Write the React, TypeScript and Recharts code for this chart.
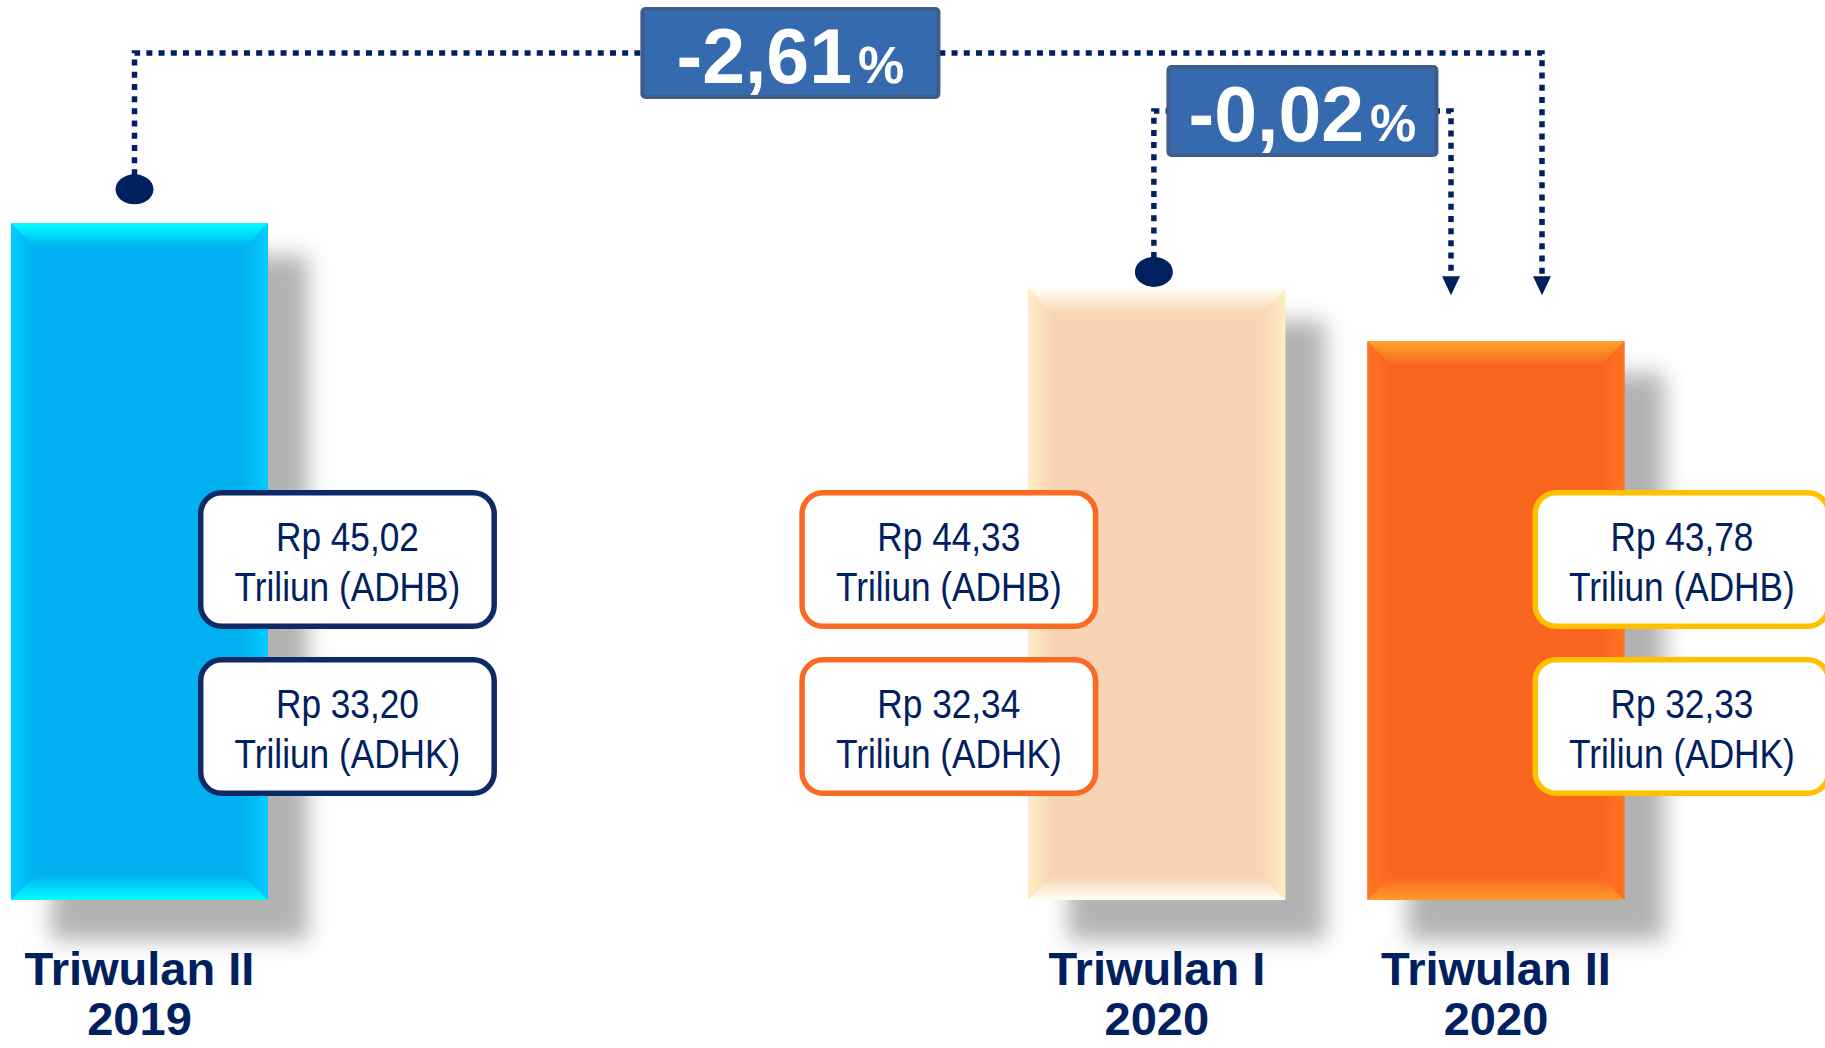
import React from 'react'
import { Bar, BarChart, ReferenceLine, XAxis, YAxis } from 'recharts'

// PDRB per triwulan (triliun rupiah)
const QUARTER_NAMES = ['Triwulan II', 'Triwulan I', 'Triwulan II']
const QUARTERS = [2, 1, 2]
const YEARS = [2019, 2020, 2020]
const ADHB = [45.02, 44.33, 43.78]
const ADHK = [33.2, 32.34, 32.33]

// growth annotations (from bar index -> to bar index, percent)
const GROWTH_FROM = [0, 1]
const GROWTH_TO = [2, 2]
const GROWTH_PCT = [-2.61, -0.02]

const data = YEARS.map((year, i) => ({
  t: year * 4 + QUARTERS[i] - 1,
  quarter: QUARTER_NAMES[i],
  year,
  adhb: ADHB[i],
  adhk: ADHK[i],
}))

const NAVY = '#002060'
const FONT = '"Liberation Sans", Arial, sans-serif'

const BAR_STYLES = [
  { main: '#00B0F0', top: '#00FFFF', side: '#00CCFF', bottom: '#00FFFF', border: '#0D2A66', shift: 208 },
  { main: '#F9D3B4', top: '#FFFFF2', side: '#FFEEC6', bottom: '#FFFFF2', border: '#F96A25', shift: -208 },
  { main: '#F9641F', top: '#FFA52E', side: '#FF7426', bottom: '#FF9A2E', border: '#FFC000', shift: 186 },
]

const GROWTH_STYLES = [
  { level: 53, startDx: -5, endDx: 46, dotGap: 34, boxW: 300, boxAt: 0.466 },
  { level: 111, startDx: -3, endDx: -45, dotGap: 17, boxW: 272, boxAt: 0.5 },
]

const fmt = (v: number) => v.toFixed(2).replace('.', ',')

function BevelBar(props: any) {
  const { x, y, width: w, height: h, index, payload } = props
  const s = BAR_STYLES[index]
  const b = 25
  const id = `bb${index}`
  const bottom = y + h
  const cx = x + w / 2 + s.shift
  const boxW = 299
  const boxH = 139
  const sw = 5.5

  return (
    <g>
      <defs>
        <filter id={`${id}-sh`} x="-40%" y="-20%" width="180%" height="140%">
          <feGaussianBlur stdDeviation="11" />
        </filter>
        <linearGradient id={`${id}-t`} x1="0" y1="0" x2="0" y2="1">
          <stop offset="0" stopColor={s.top} />
          <stop offset="1" stopColor={s.main} />
        </linearGradient>
        <linearGradient id={`${id}-b`} x1="0" y1="0" x2="0" y2="1">
          <stop offset="0" stopColor={s.main} />
          <stop offset="1" stopColor={s.bottom} />
        </linearGradient>
        <linearGradient id={`${id}-l`} x1="0" y1="0" x2="1" y2="0">
          <stop offset="0" stopColor={s.side} />
          <stop offset="1" stopColor={s.main} />
        </linearGradient>
        <linearGradient id={`${id}-r`} x1="0" y1="0" x2="1" y2="0">
          <stop offset="0" stopColor={s.main} />
          <stop offset="1" stopColor={s.side} />
        </linearGradient>
      </defs>
      <rect x={x + 40} y={y + 32} width={w} height={h + 8} fill="#b2b2b2" filter={`url(#${id}-sh)`} />
      <rect x={x} y={y} width={w} height={h} fill={s.main} />
      <polygon points={`${x},${y} ${x + b},${y + b} ${x + b},${bottom - b} ${x},${bottom}`} fill={`url(#${id}-l)`} />
      <polygon
        points={`${x + w},${y} ${x + w - b},${y + b} ${x + w - b},${bottom - b} ${x + w},${bottom}`}
        fill={`url(#${id}-r)`}
      />
      <polygon points={`${x},${y} ${x + w},${y} ${x + w - b},${y + b} ${x + b},${y + b}`} fill={`url(#${id}-t)`} />
      <polygon
        points={`${x + b},${bottom - b} ${x + w - b},${bottom - b} ${x + w},${bottom} ${x},${bottom}`}
        fill={`url(#${id}-b)`}
      />
      {[payload.adhb, payload.adhk].map((v: number, k: number) => {
        const top = bottom - (k === 0 ? 410 : 243)
        return (
          <g key={k}>
            <rect
              x={cx - boxW / 2 + sw / 2}
              y={top + sw / 2}
              width={boxW - sw}
              height={boxH - sw}
              rx={21}
              fill="#fff"
              stroke={s.border}
              strokeWidth={sw}
            />
            <text
              transform={`translate(${cx},${top + 61}) scale(0.87,1)`}
              textAnchor="middle"
              fontSize={40.5}
              fontFamily={FONT}
              fill={NAVY}
            >
              Rp {fmt(v)}
            </text>
            <text
              transform={`translate(${cx},${top + 111}) scale(0.87,1)`}
              textAnchor="middle"
              fontSize={40.5}
              fontFamily={FONT}
              fill={NAVY}
            >
              Triliun ({k === 0 ? 'ADHB' : 'ADHK'})
            </text>
          </g>
        )
      })}
    </g>
  )
}

function Connector(props: any) {
  const { x1, y1, x2, y2, k } = props
  const st = GROWTH_STYLES[k]
  const xa = x1 + st.startDx
  const xb = x2 + st.endDx
  const dotY = y1 - st.dotGap
  const tipY = y2 - 46
  const boxCx = xa + (xb - xa) * st.boxAt

  return (
    <g>
      <path
        d={`M${xa},${dotY - 14} V${st.level} H${xb} V${tipY - 17}`}
        fill="none"
        stroke={NAVY}
        strokeWidth={5.5}
        strokeDasharray="6 6.2"
      />
      <ellipse cx={xa} cy={dotY} rx={19} ry={15} fill={NAVY} />
      <polygon points={`${xb - 9},${tipY - 19} ${xb + 9},${tipY - 19} ${xb},${tipY}`} fill={NAVY} />
      <rect
        x={boxCx - st.boxW / 2 + 2}
        y={st.level - 44}
        width={st.boxW - 4}
        height={88}
        rx={3}
        fill="#356AAE"
        stroke="#3D5E8B"
        strokeWidth={4}
      />
      <text
        x={boxCx}
        y={st.level + 30}
        textAnchor="middle"
        fill="#fff"
        fontWeight="bold"
        fontFamily={FONT}
        fontSize={77}
      >
        {fmt(GROWTH_PCT[k])}
        <tspan fontSize={52} dx={6}>
          %
        </tspan>
      </text>
    </g>
  )
}

function CategoryTick(props: any) {
  const { x, y, payload } = props
  const d = data.find((e) => e.t === payload.value)
  if (!d) return null
  return (
    <g>
      <text x={x} y={y + 85} textAnchor="middle" fontSize={47} fontWeight="bold" fontFamily={FONT} fill={NAVY}>
        {d.quarter}
      </text>
      <text x={x} y={y + 135} textAnchor="middle" fontSize={47} fontWeight="bold" fontFamily={FONT} fill={NAVY}>
        {d.year}
      </text>
    </g>
  )
}

export default function App() {
  return (
    <div style={{ width: 1825, height: 1048, background: '#fff' }}>
      <style>{'body{margin:0;overflow:hidden;}'}</style>
      <BarChart width={1825} height={1048} data={data} margin={{ top: 0, right: 0, bottom: 0, left: 0 }}>
        <XAxis
          type="number"
          dataKey="t"
          domain={['dataMin', 'dataMax']}
          ticks={data.map((d) => d.t)}
          interval={0}
          padding={{ left: 139.5, right: 329 }}
          height={148}
          axisLine={false}
          tickLine={false}
          tickSize={0}
          tickMargin={0}
          tick={CategoryTick}
        />
        <YAxis hide type="number" domain={[37.9, 47.37]} />
        <Bar dataKey="adhb" barSize={257} isAnimationActive={false} shape={BevelBar} />
        {GROWTH_PCT.map((_, k) => (
          <ReferenceLine
            key={k}
            segment={[
              { x: data[GROWTH_FROM[k]].t, y: ADHB[GROWTH_FROM[k]] },
              { x: data[GROWTH_TO[k]].t, y: ADHB[GROWTH_TO[k]] },
            ]}
            shape={(p: any) => <Connector {...p} k={k} />}
          />
        ))}
      </BarChart>
    </div>
  )
}
